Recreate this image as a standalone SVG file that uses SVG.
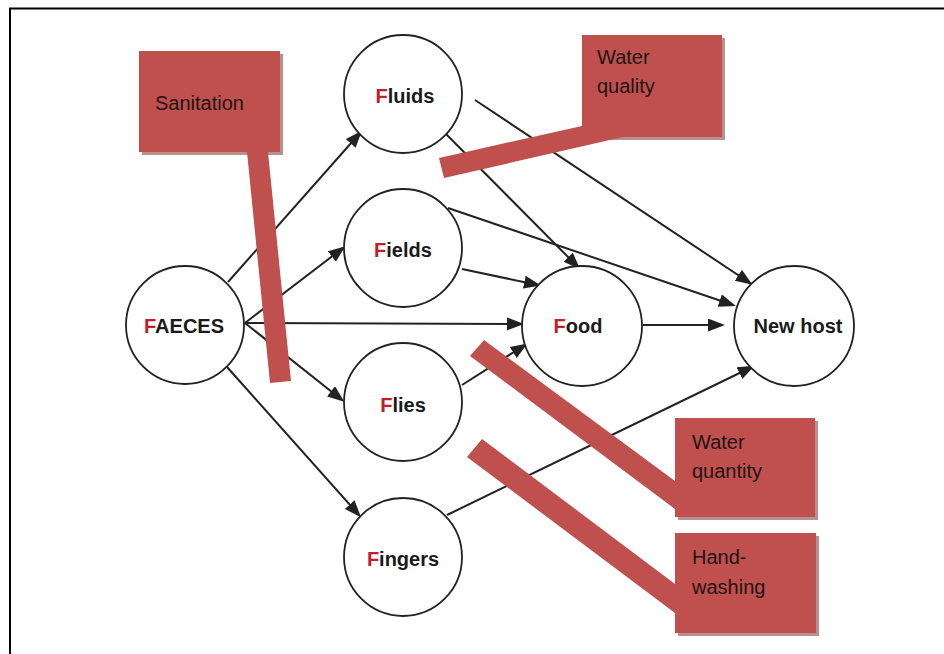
<svg xmlns="http://www.w3.org/2000/svg" width="944" height="654" viewBox="0 0 944 654">
<defs>
<marker id="arr" markerUnits="userSpaceOnUse" markerWidth="18" markerHeight="14" viewBox="0 0 18 14" refX="14" refY="6.5" orient="auto">
<path d="M0,0 L17,6.5 L0,13 z" fill="#222"/>
</marker>
</defs>
<style>
.node{fill:#fff;stroke:#222;stroke-width:1.8}
.lbl{font-family:"Liberation Sans",Arial,sans-serif;font-weight:bold;font-size:20px;fill:#1a1a1a;text-anchor:middle}
.f{fill:#c0202a}
.con line{stroke:#222;stroke-width:2;marker-end:url(#arr)}
.call{fill:#c0504d}
.shadow{fill:#7b3735;opacity:0.55}
.ct{font-family:"Liberation Sans",Arial,sans-serif;font-size:20px;fill:#1e1414}
.frame{stroke:#000;stroke-width:2;fill:none}
</style>
<rect width="944" height="654" fill="#fff"/>
<path class="frame" d="M10,654 V8.5 H944"/>

<g id="connectors" class="con">
<line x1="228" y1="282" x2="360" y2="133"/>
<line x1="245" y1="323" x2="343" y2="248"/>
<line x1="245" y1="323" x2="521" y2="324"/>
<line x1="245" y1="323" x2="342" y2="400"/>
<line x1="227" y1="367" x2="359" y2="515"/>
<line x1="475" y1="100" x2="750" y2="283"/>
<line x1="446" y1="134" x2="578" y2="267"/>
<line x1="448" y1="208" x2="733" y2="305"/>
<line x1="462" y1="269" x2="538" y2="285"/>
<line x1="643" y1="325" x2="722" y2="325"/>
<line x1="462" y1="385" x2="525" y2="345"/>
<line x1="447" y1="515" x2="752" y2="367"/>
</g>

<g id="node-faeces"><circle class="node" cx="185" cy="325" r="59"/><text class="lbl" x="184" y="333"><tspan class="f">F</tspan>AECES</text></g>
<g id="node-fluids"><circle class="node" cx="403" cy="94" r="59"/><text class="lbl" x="405" y="103"><tspan class="f">F</tspan>luids</text></g>
<g id="node-fields"><circle class="node" cx="403" cy="248" r="59"/><text class="lbl" x="403" y="257"><tspan class="f">F</tspan>ields</text></g>
<g id="node-flies"><circle class="node" cx="403" cy="402" r="59"/><text class="lbl" x="403" y="412"><tspan class="f">F</tspan>lies</text></g>
<g id="node-fingers"><circle class="node" cx="403" cy="557" r="59"/><text class="lbl" x="403" y="566"><tspan class="f">F</tspan>ingers</text></g>
<g id="node-food"><circle class="node" cx="582" cy="326" r="60"/><text class="lbl" x="578" y="333"><tspan class="f">F</tspan>ood</text></g>
<g id="node-newhost"><circle class="node" cx="794" cy="326" r="60"/><text class="lbl" x="798" y="333">New host</text></g>

<g id="callout-sanitation">
<rect class="shadow" x="142" y="54" width="141" height="101"/>
<path class="call" d="M139,51 H280 V152 H268 L291,381 L270,383 L247,152 H139 Z"/>
<text class="ct" x="155" y="110">Sanitation</text>
</g>
<g id="callout-water-quality">
<rect class="shadow" x="585" y="38" width="140" height="102"/>
<path class="call" d="M582,35 H722 V137 H623 L444,178 L439,158 L582,126 Z"/>
<text class="ct" x="597" y="64">Water</text>
<text class="ct" x="597" y="93">quality</text>
</g>
<g id="callout-water-quantity">
<rect class="shadow" x="678" y="421" width="140" height="99"/>
<path class="call" d="M675,418 H815 V517 H675 V509 L470,356 L484,340 L675,481 Z"/>
<text class="ct" x="692" y="449">Water</text>
<text class="ct" x="692" y="478">quantity</text>
</g>
<g id="callout-handwashing">
<rect class="shadow" x="678" y="536" width="141" height="100"/>
<path class="call" d="M675,533 H816 V633 H675 V613 L467,457 L482,439 L675,584 Z"/>
<text class="ct" x="692" y="564">Hand-</text>
<text class="ct" x="692" y="594">washing</text>
</g>
</svg>
